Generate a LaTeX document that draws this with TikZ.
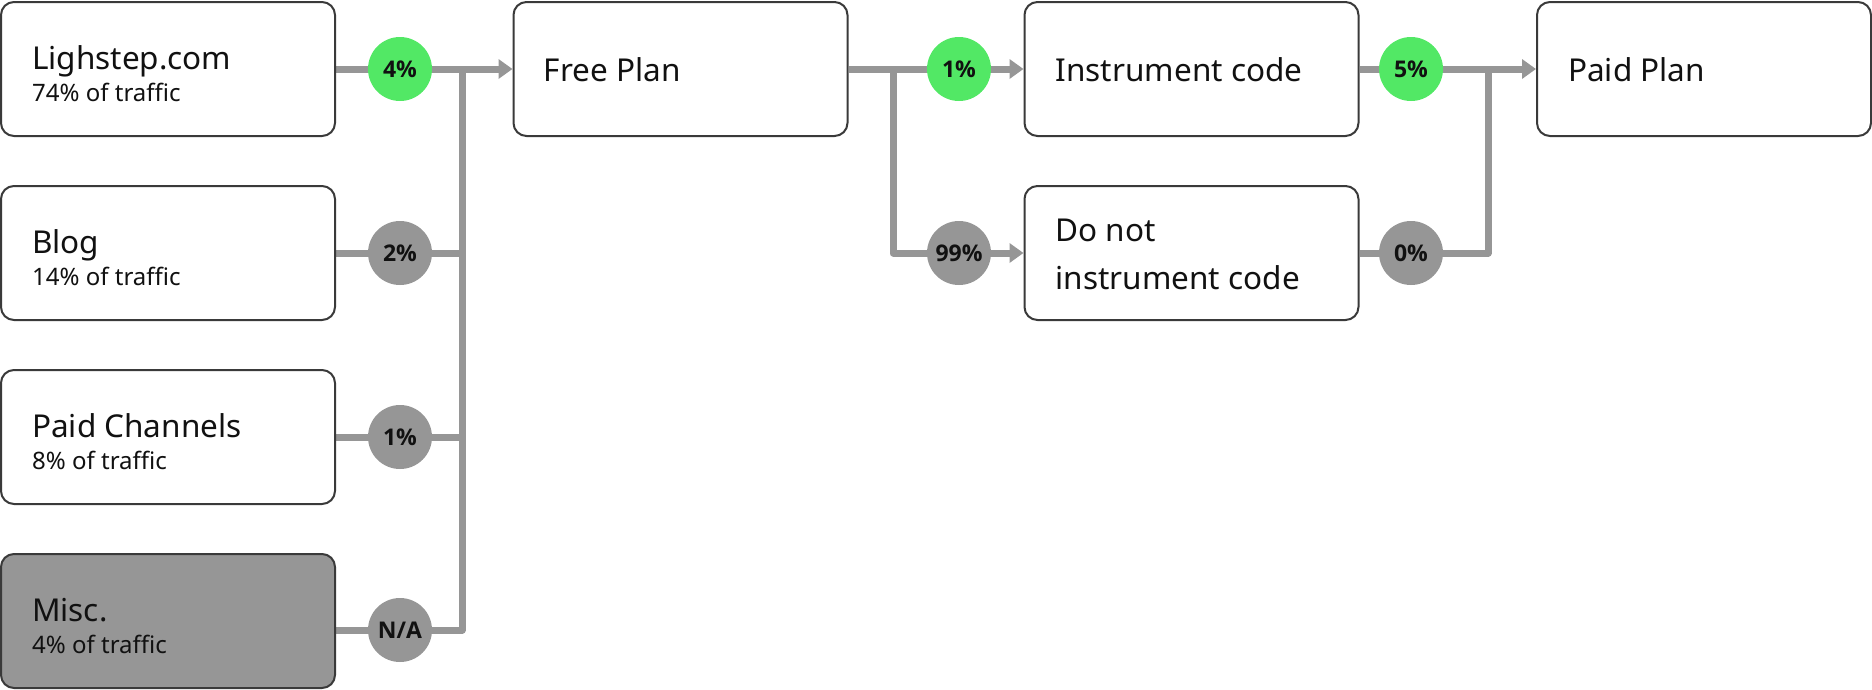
\documentclass[tikz,border=0pt]{standalone}
\usepackage{fontspec}
\setmainfont{Noto Sans}
\newfontfamily\pctfont{Open Sans}
\usetikzlibrary{arrows.meta,backgrounds,calc}
\definecolor{lgrey}{HTML}{969696}
\definecolor{lgreen}{HTML}{52E865}
\definecolor{edge}{HTML}{3A3A3A}
\definecolor{ink}{HTML}{111111}
\begin{document}
\begin{tikzpicture}[x=1pt,y=-1pt,
  box/.style={draw=edge, line width=2pt, rounded corners=13pt, fill=white,
    minimum width=334pt, minimum height=134pt, inner sep=0pt},
  pct/.style={circle, minimum size=64pt, inner sep=0pt,
    font=\pctfont\bfseries\fontsize{23}{23}\selectfont, text=ink},
  flow/.style={draw=lgrey, line width=7pt},
  arr/.style={flow, -{Triangle[length=14pt,width=19pt]}},
  title/.style={anchor=base west, inner sep=0pt, text=ink, font=\fontsize{31.5}{31.5}\selectfont},
  sub/.style={anchor=base west, inner sep=0pt, text=ink, font=\fontsize{24}{24}\selectfont}]
\useasboundingbox (0,0) rectangle (1872,689);
% boxes
\node[box] (b1) at (168,69) {};
\node[box] (b2) at (168,253) {};
\node[box] (b3) at (168,437) {};
\node[box, fill=lgrey] (b4) at (168,621) {};
\node[box] (free) at (680.5,69) {};
\node[box] (instr) at (1191.5,69) {};
\node[box] (dnot) at (1191.5,253) {};
\node[box] (paid) at (1704,69) {};
% texts
\node[title] (t1) at ($(b1.north west)+(32,68)$) {Lighstep.com};
\node[sub] (s1) at ($(b1.north west)+(32,100)$) {74\% of traffic};
\node[title] (t2) at ($(b2.north west)+(32,68)$) {Blog};
\node[sub] (s2) at ($(b2.north west)+(32,100)$) {14\% of traffic};
\node[title] (t3) at ($(b3.north west)+(32,68)$) {Paid Channels};
\node[sub] (s3) at ($(b3.north west)+(32,100)$) {8\% of traffic};
\node[title] (t4) at ($(b4.north west)+(32,68)$) {Misc.};
\node[sub] (s4) at ($(b4.north west)+(32,100)$) {4\% of traffic};
\node[title] (tf) at ($(free.north west)+(31,80)$) {Free Plan};
\node[title] (ti) at ($(instr.north west)+(32,80)$) {Instrument code};
\node[title] (td1) at ($(dnot.north west)+(32,56)$) {Do not};
\node[title] (td2) at ($(dnot.north west)+(32,104)$) {instrument code};
\node[title] (tp) at ($(paid.north west)+(32,80)$) {Paid Plan};
% percent circles
\node[pct, fill=lgreen] (c1) at (400,69) {4\%};
\node[pct, fill=lgrey] (c2) at (400,253) {2\%};
\node[pct, fill=lgrey] (c3) at (400,437) {1\%};
\node[pct, fill=lgrey] (c4) at (400,630) {N/A};
\node[pct, fill=lgreen] (c5) at (959,69) {1\%};
\node[pct, fill=lgrey] (c6) at (959,253) {99\%};
\node[pct, fill=lgreen] (c7) at (1411,69) {5\%};
\node[pct, fill=lgrey] (c8) at (1411,253) {0\%};
% junctions
\coordinate (j1) at (462,69);
\coordinate (j4) at (462,630);
\coordinate (j5) at (893,69);
\coordinate (j6) at (893,253);
\coordinate (j7) at (1488,69);
\coordinate (j8) at (1488,253);
\begin{scope}[on background layer]
\draw[arr] (b1.east) -- (free.west);
\draw[flow] (b2.east) -- (j1 |- b2.east);
\draw[flow] (b3.east) -- (j1 |- b3.east);
\draw[flow, line join=round] (b4.east |- c4) -- (j4) -- (j1);
\draw[arr] (free.east) -- (instr.west);
\draw[arr, line join=round] (j5) -- (j6) -- (dnot.west);
\draw[arr] (instr.east) -- (paid.west);
\draw[flow, line join=round] (dnot.east) -- (j8) -- (j7);
\end{scope}
\end{tikzpicture}
\end{document}
